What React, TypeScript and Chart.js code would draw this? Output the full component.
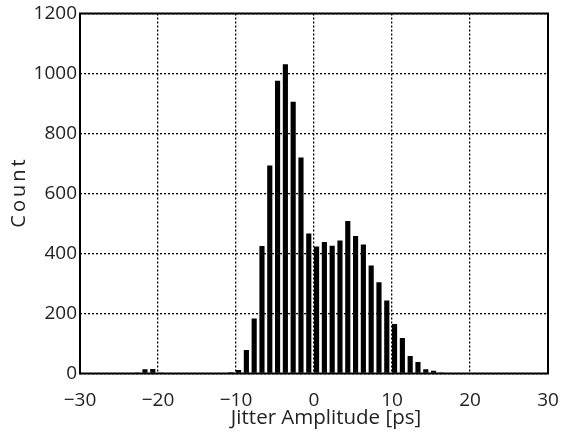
import { useEffect, useRef } from 'react';
import { Chart, registerables } from 'chart.js';

Chart.register(...registerables);

// Histogram bin centres [ps] and counts
const binCenters = [
  -22.67, -21.67, -20.67, -19.67,
  -10.67, -9.67, -8.67, -7.67, -6.67, -5.67, -4.67, -3.67, -2.67, -1.67, -0.67,
  0.33, 1.33, 2.33, 3.33, 4.33, 5.33, 6.33, 7.33, 8.33, 9.33, 10.33, 11.33,
  12.33, 13.33, 14.33, 15.33, 16.33,
];
const counts = [
  3, 14, 15, 2,
  4, 12, 78, 183, 425, 693, 976, 1031, 906, 720, 467,
  423, 438, 426, 443, 508, 458, 430, 360, 304, 243, 165, 118,
  58, 38, 14, 9, 3,
];
const xTickValues = [-30, -20, -10, 0, 10, 20, 30];
const yTickValues = [0, 200, 400, 600, 800, 1000, 1200];
const xTitle = 'Jitter Amplitude [ps]';
const yTitle = 'Count';

const FONT_FAMILY = '"Open Sans", "Liberation Sans", sans-serif';
const TEXT_COLOR = '#222';

const framePlugin = {
  id: 'frameAndTitles',
  afterDraw(chart: any) {
    const { ctx, chartArea } = chart;
    const { left, top, right, bottom } = chartArea;
    ctx.save();
    ctx.strokeStyle = '#000';
    ctx.lineWidth = 2;
    ctx.strokeRect(left, top, right - left, bottom - top);
    ctx.fillStyle = TEXT_COLOR;
    ctx.textAlign = 'center';
    ctx.textBaseline = 'middle';
    ctx.font = `20.5px ${FONT_FAMILY}`;
    ctx.fillText(xTitle, (left + right) / 2 + 12, 418);
    ctx.translate(19, (top + bottom) / 2);
    ctx.rotate(-Math.PI / 2);
    ctx.font = `20px ${FONT_FAMILY}`;
    (ctx as any).letterSpacing = '3px';
    ctx.fillText(yTitle, 1.5, 0);
    ctx.restore();
  },
};

export default function App() {
  const canvasRef = useRef<HTMLCanvasElement | null>(null);

  useEffect(() => {
    if (!canvasRef.current) return;
    const data = binCenters.map((x, i) => ({ x, y: counts[i] }));
    const chart = new Chart(canvasRef.current, {
      type: 'bar',
      data: {
        datasets: [
          {
            data,
            backgroundColor: '#000',
            borderWidth: 0,
            barPercentage: 0.66,
            categoryPercentage: 1,
          },
        ],
      },
      options: {
        responsive: false,
        animation: false,
        devicePixelRatio: 1,
        layout: { padding: { top: 13.5, right: 17, left: 0, bottom: 0 } },
        plugins: { legend: { display: false }, tooltip: { enabled: false } },
        scales: {
          x: {
            type: 'linear',
            min: -30,
            max: 30,
            offset: false,
            afterBuildTicks: (scale: any) => {
              scale.ticks = xTickValues.map((v) => ({ value: v }));
            },
            afterFit: (scale: any) => {
              scale.height = 60.5;
              scale.paddingLeft = 0;
              scale.paddingRight = 0;
            },
            ticks: {
              color: TEXT_COLOR,
              font: { family: FONT_FAMILY, size: 19 },
              padding: 16,
              maxRotation: 0,
              callback: (v: any) => String(v).replace('-', '\u2212'),
            },
            grid: { color: '#000', lineWidth: 1.3, drawTicks: false, offset: false },
            border: { display: false, dash: [2, 2] },
          },
          y: {
            type: 'linear',
            min: 0,
            max: 1200,
            afterBuildTicks: (scale: any) => {
              scale.ticks = yTickValues.map((v) => ({ value: v }));
            },
            afterFit: (scale: any) => {
              scale.width = 80;
              scale.paddingTop = 0;
              scale.paddingBottom = 0;
            },
            ticks: {
              color: TEXT_COLOR,
              font: { family: FONT_FAMILY, size: 19 },
              padding: 3,
              callback: (v: any) => String(v),
            },
            grid: { color: '#000', lineWidth: 1.3, drawTicks: false },
            border: { display: false, dash: [2, 2] },
          },
        },
      },
      plugins: [framePlugin],
    });
    return () => chart.destroy();
  }, []);

  return (
    <div style={{ position: 'absolute', left: 0, top: 0, width: 565, height: 434, background: '#fff' }}>
      <canvas ref={canvasRef} width={565} height={434} />
    </div>
  );
}
